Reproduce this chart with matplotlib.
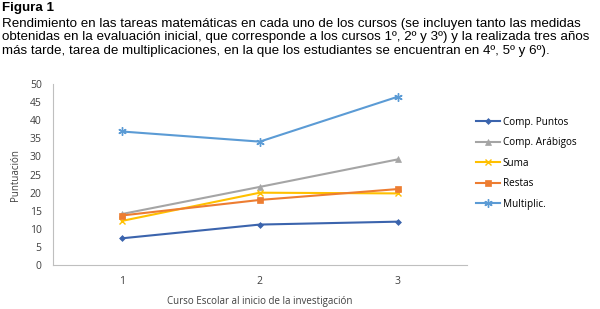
import numpy as np
import matplotlib.pyplot as plt

cursos = [1, 2, 3]
comp_puntos = [7.4, 11.2, 12.0]
comp_arabigos = [14.1, 21.6, 29.2]
suma = [12.2, 20.0, 19.8]
restas = [13.7, 18.0, 21.0]
multiplic = [36.9, 34.1, 46.5]
labels = ['Comp. Puntos', 'Comp. Arábigos', 'Suma', 'Restas', 'Multiplic.']

titulo = 'Figura 1'
texto = ('Rendimiento en las tareas matemáticas en cada uno de los cursos (se incluyen tanto las medidas\n'
         'obtenidas en la evaluación inicial, que corresponde a los cursos 1º, 2º y 3º) y la realizada tres años\n'
         'más tarde, tarea de multiplicaciones, en la que los estudiantes se encuentran en 4º, 5º y 6º).')

fig = plt.figure(figsize=(6, 3.09), dpi=100)
fig.text(0.003, 0.995, titulo, fontsize=9.6, fontweight='bold', family='Liberation Sans', va='top')
fig.text(0.003, 0.942, texto, fontsize=9.6, family='Liberation Sans', va='top', linespacing=1.16)

ax = fig.add_axes([0.088, 0.142, 0.69, 0.586])
series = [comp_puntos, comp_arabigos, suma, restas, multiplic]
colors = ['#3b64ad', '#a5a5a5', '#ffc000', '#ed7d31', '#5b9bd5']
markers = ['D', '^', 'x', 's', (6, 2, 0)]
msizes = [3, 4, 5, 5, 6]
for s, c, m, ms, lab in zip(series, colors, markers, msizes, labels):
    ax.plot(cursos, s, color=c, marker=m, markersize=ms, lw=1.5, label=lab,
            markeredgewidth=1 if m in ('x', (6, 2, 0)) else 0.5)

ax.set_xlim(0.5, 3.5)
ax.set_ylim(0, 50)
ax.set_yticks(range(0, 51, 5))
ax.set_xticks(cursos)
for sp in ['top', 'right']:
    ax.spines[sp].set_visible(False)
for sp in ['left', 'bottom']:
    ax.spines[sp].set_color('#bfbfbf')
ax.tick_params(length=0, labelsize=7.5, colors='#404040', pad=8)
for t in ax.get_xticklabels() + ax.get_yticklabels():
    t.set_family('Open Sans')
ax.set_ylabel('Puntuación', fontsize=7, family='Open Sans', color='#404040', labelpad=6)
ax.set_xlabel('Curso Escolar al inicio de la investigación', fontsize=7, family='Open Sans',
              color='#404040', labelpad=6)
ax.legend(loc='upper left', bbox_to_anchor=(1.0, 0.87), frameon=False,
          prop={'family': 'Open Sans', 'size': 7.2}, handlelength=2.4, labelspacing=0.95,
          handletextpad=0.3)

fig.savefig('out.png', dpi=100)
